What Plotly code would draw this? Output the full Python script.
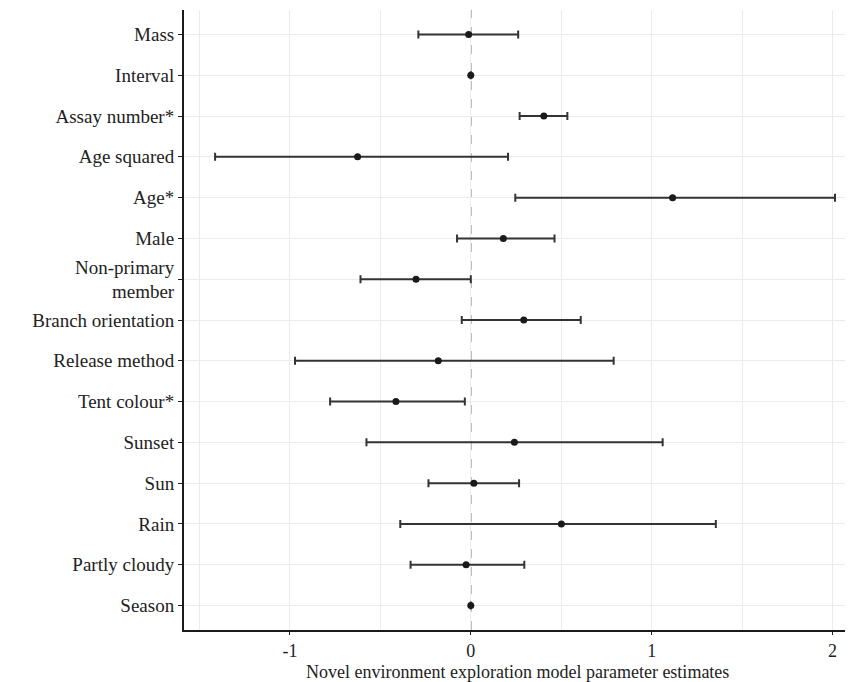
import plotly.graph_objects as go

labels = ["Mass", "Interval", "Assay number*", "Age squared", "Age*", "Male",
          "Non-primary<br>member", "Branch orientation", "Release method",
          "Tent colour*", "Sunset", "Sun", "Rain", "Partly cloudy", "Season"]
estimate = [-0.012, 0.0, 0.404, -0.626, 1.116, 0.18, -0.303, 0.293, -0.18,
            -0.414, 0.241, 0.017, 0.501, -0.026, 0.0]
lower = [-0.29, 0.0, 0.27, -1.414, 0.246, -0.076, -0.61, -0.05, -0.972,
         -0.778, -0.577, -0.234, -0.39, -0.333, 0.0]
upper = [0.262, 0.0, 0.534, 0.206, 2.014, 0.463, 0.0, 0.608, 0.79,
         -0.033, 1.061, 0.267, 1.355, 0.296, 0.0]
x_ticks = [-1, 0, 1, 2]
x_title = "Novel environment exploration model parameter estimates"

err_plus = [u - e for u, e in zip(upper, estimate)]
err_minus = [e - l for e, l in zip(estimate, lower)]

font_family = "'Liberation Serif', 'Times New Roman', Times, 'DejaVu Serif', serif"

fig = go.Figure()
fig.add_shape(type="line", xref="x", yref="paper", x0=0, x1=0, y0=0, y1=1,
              line=dict(color="#8a8a8a", width=1.5, dash="dash"), layer="between")
fig.add_trace(go.Scatter(
    x=estimate, y=labels, mode="markers",
    marker=dict(color="#1a1a1a", size=7),
    error_x=dict(type="data", symmetric=False, array=err_plus, arrayminus=err_minus,
                 color="#333333", thickness=2, width=4),
    showlegend=False,
))
fig.add_annotation(text=x_title, xref="paper", yref="paper", x=0.5, y=0,
                   xanchor="center", yanchor="top", yshift=-30, showarrow=False,
                   font=dict(family=font_family, size=18, color="#222222"))

fig.update_layout(
    width=853, height=682,
    margin=dict(l=176, r=11, t=2, b=60, autoexpand=False),
    plot_bgcolor="white", paper_bgcolor="white",
    font=dict(family=font_family, color="#222222", size=19),
    xaxis=dict(
        range=[-1.586, 2.097], tickvals=x_ticks, ticktext=[str(v) for v in x_ticks],
        showgrid=True, gridcolor="#ebebeb", gridwidth=1,
        minor=dict(dtick=0.5, tick0=0, showgrid=True, gridcolor="#ebebeb", gridwidth=1),
        zeroline=False, showline=True, linecolor="#1a1a1a", linewidth=2,
        ticks="outside", ticklen=3, tickcolor="#222222",
        tickfont=dict(family=font_family, size=18, color="#222222"),
        automargin=False,
    ),
    yaxis=dict(
        type="category", categoryorder="array", categoryarray=labels[::-1],
        range=[-0.6, 14.6],
        showgrid=True, gridcolor="#ebebeb", gridwidth=1,
        zeroline=False, showline=True, linecolor="#1a1a1a", linewidth=2,
        ticks="outside", ticklen=4, tickcolor="#222222",
        tickfont=dict(family=font_family, size=19, color="#222222"),
        automargin=False,
    ),
)

fig.write_html("out.html")
